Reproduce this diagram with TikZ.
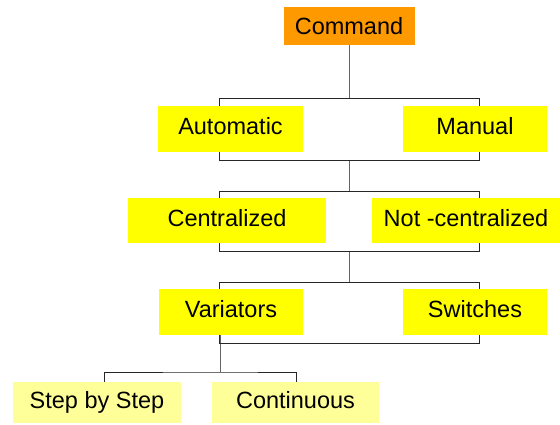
\documentclass[tikz,border=0pt]{standalone}
\usepackage{fontspec}
\setmainfont{Liberation Sans}
\usepackage{tikz}
\usetikzlibrary{positioning, backgrounds}
\definecolor{cmdorange}{RGB}{255, 153, 0}
\definecolor{boxyellow}{RGB}{255, 255, 0}
\definecolor{leafyellow}{RGB}{255, 255, 153}
\definecolor{stemgray}{RGB}{100, 100, 100}

\begin{document}
\begin{tikzpicture}[x=1pt, y=1pt, font=\fontsize{23.5}{28}\selectfont,
    box/.style={fill=boxyellow, minimum height=46pt, inner sep=0pt,
                text height=17pt, text depth=5pt},
    leaf/.style={box, fill=leafyellow, minimum height=41pt},
    stem/.style={stemgray, line width=1pt},
    bracket/.style={black!85, line width=0.9pt}]
        \useasboundingbox (0,0) rectangle (560,425);
        % boxes
        \node[box, fill=cmdorange, minimum width=131pt, minimum height=38pt,
              text depth=0pt] (command) at (349,399) {Command};
        \node[box, minimum width=145pt] (automatic) at (230.5,296) {Automatic};
        \node[box, minimum width=144pt] (manual) at (475,296) {Manual};
        \node[box, minimum width=198pt, minimum height=45pt]
              (centralized) at (227,204.5) {Centralized};
        \node[box, minimum width=188pt, minimum height=45pt]
              (notcentralized) at (466,204.5) {Not -centralized};
        \node[box, minimum width=144pt] (variators) at (231,113) {Variators};
        \node[box, minimum width=144pt] (switches) at (475,113) {Switches};
        \node[leaf, minimum width=168pt] (stepbystep) at (97,22.5) {Step by Step};
        \node[leaf, minimum width=167pt] (continuous) at (295.5,22.5) {Continuous};
        % junctions
        \coordinate (fork1) at (349,327);
        \coordinate (join1) at (349,265);
        \coordinate (fork2) at (349,234);
        \coordinate (join2) at (349,174);
        \coordinate (fork3) at (349,143);
        \coordinate (vout) at (220,90);
        \coordinate (fork4) at (220,53);
        \coordinate (leafL) at (104,43);
        \coordinate (leafR) at (296,43);
        \begin{scope}[on background layer]
          \draw[stem] (command) -- (fork1);
          \draw[stem] (join1) -- (fork2);
          \draw[stem] (join2) -- (fork3);
          \draw[stem] (vout) -- (fork4);
          \foreach \t/\b in {327/265, 234/174, 143/82} {
            \draw[bracket] (219,\t) rectangle (479,\b);
          }
          \draw[bracket] (leafL) |- (fork4) -| (leafR);
        \end{scope}
      \end{tikzpicture}
\end{document}
